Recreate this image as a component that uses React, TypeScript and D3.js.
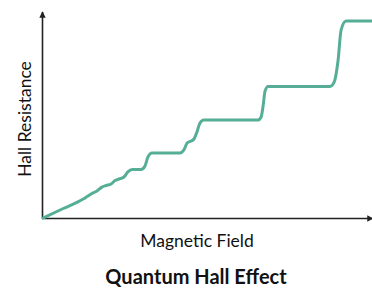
import { useEffect, useRef } from "react";
import * as d3 from "d3";

// magnetic field (arbitrary units) and hall resistance (fraction of top plateau)
const field = [
  0, 0.6, 1.22, 1.34, 1.46, 1.64, 1.79, 1.92, 2.07, 2.19, 2.31, 2.46, 2.58,
  2.71, 2.98, 3.1, 3.19, 3.31, 4.16, 4.29, 4.38, 4.5, 4.59, 4.68, 4.77, 4.89,
  6.53, 6.63, 6.69, 6.75, 6.84, 8.72, 8.85, 8.97, 9.06, 9.21, 10,
];
const resistance = [
  0, 0.047, 0.096, 0.109, 0.122, 0.137, 0.157, 0.165, 0.173, 0.19, 0.198,
  0.208, 0.234, 0.246, 0.246, 0.264, 0.31, 0.33, 0.33, 0.348, 0.381, 0.391,
  0.401, 0.437, 0.482, 0.497, 0.497, 0.513, 0.569, 0.645, 0.668, 0.668, 0.69,
  0.802, 0.954, 1, 1,
];

const xLabel = "Magnetic Field";
const yLabel = "Hall Resistance";
const title = "Quantum Hall Effect";

export default function App() {
  const ref = useRef<SVGSVGElement>(null);

  useEffect(() => {
    if (!ref.current) return;
    const width = 372;
    const height = 290;
    const left = 43;
    const right = 372;
    const bottom = 218;
    const top = 21;

    const svg = d3.select(ref.current);
    svg.selectAll("*").remove();
    svg.attr("width", width).attr("height", height);

    const x = d3.scaleLinear().domain([0, 10]).range([left, right]);
    const y = d3.scaleLinear().domain([0, 1]).range([bottom, top]);

    const defs = svg.append("defs");
    defs
      .append("marker")
      .attr("id", "arrow")
      .attr("viewBox", "0 0 10 10")
      .attr("refX", 9)
      .attr("refY", 5)
      .attr("markerWidth", 4)
      .attr("markerHeight", 4)
      .attr("orient", "auto")
      .append("path")
      .attr("d", "M0,0L10,5L0,10Z")
      .attr("fill", "#222");

    // axes
    svg
      .append("line")
      .attr("x1", left - 0.5)
      .attr("y1", bottom + 0.5)
      .attr("x2", left - 0.5)
      .attr("y2", 12)
      .attr("stroke", "#222")
      .attr("stroke-width", 1.6)
      .attr("marker-end", "url(#arrow)");
    svg
      .append("line")
      .attr("x1", left - 1)
      .attr("y1", bottom + 0.5)
      .attr("x2", 373)
      .attr("y2", bottom + 0.5)
      .attr("stroke", "#222")
      .attr("stroke-width", 1.6)
      .attr("marker-end", "url(#arrow)");

    const line = d3
      .line<number>()
      .x((_d, i) => x(field[i]))
      .y((d) => y(d))
      .curve(d3.curveMonotoneX);

    svg
      .append("path")
      .datum(resistance)
      .attr("d", line)
      .attr("fill", "none")
      .attr("stroke", "#56ae96")
      .attr("stroke-width", 3)
      .attr("stroke-linecap", "round");

    svg
      .append("text")
      .attr("x", 197)
      .attr("y", 247)
      .attr("text-anchor", "middle")
      .style("font-family", "Lato, sans-serif")
      .style("font-size", "17.5px")
      .attr("fill", "#111")
      .text(xLabel);

    svg
      .append("text")
      .attr("transform", `translate(31,119) rotate(-90)`)
      .attr("text-anchor", "middle")
      .style("font-family", "Lato, sans-serif")
      .style("font-size", "17.5px")
      .attr("fill", "#111")
      .text(yLabel);

    svg
      .append("text")
      .attr("x", 196)
      .attr("y", 284)
      .attr("text-anchor", "middle")
      .style("font-family", "Lato, sans-serif")
      .style("font-size", "20px")
      .style("font-weight", "bold")
      .attr("fill", "#111")
      .text(title);
  }, []);

  return <svg ref={ref} style={{ position: "absolute", left: 0, top: 0 }} />;
}
